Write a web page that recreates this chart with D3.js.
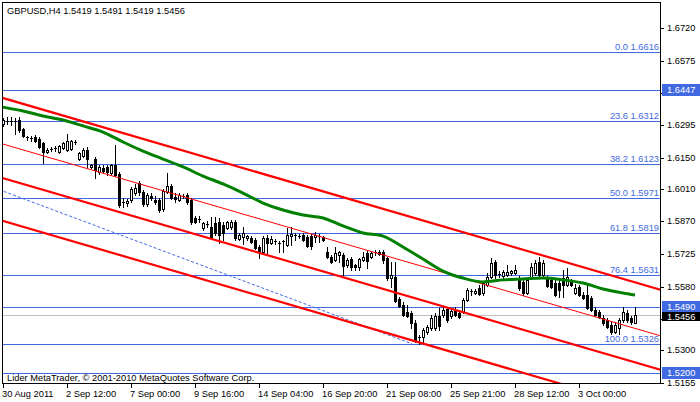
<!DOCTYPE html>
<html><head><meta charset="utf-8">
<script src="https://cdn.jsdelivr.net/npm/d3@7"></script>
<style>
html,body{margin:0;padding:0;background:#fff;}
svg{display:block;font-family:"Liberation Sans",Arial,sans-serif;}
</style></head><body>
<svg id="c" width="700" height="402"></svg>
<script>
const title = "GBPUSD,H4  1.5419 1.5491 1.5419 1.5456";
const copyright = "Lider MetaTrader, \u00a9 2001-2010 MetaQuotes Software Corp.";
const timeLabels = ["30 Aug 2011","2 Sep 12:00","7 Sep 00:00","9 Sep 16:00","14 Sep 04:00","16 Sep 20:00","21 Sep 08:00","25 Sep 21:00","28 Sep 12:00","3 Oct 00:00"];
const timeLabelBars = [0,16,32,48,64,80,96,112,128,144];
const priceTicks = [1.6720,1.6575,1.6435,1.6295,1.6150,1.6010,1.5870,1.5725,1.5580,1.5440,1.5300,1.5155];
const hiddenTicks = [1.6435,1.5440];

const open = [1.6298,1.6312,1.6307,1.6312,1.6316,1.6276,1.6241,1.6237,1.6241,1.6232,
1.6215,1.6175,1.6184,1.6188,1.6175,1.6193,1.6184,1.6188,1.6219,1.6144,
1.6157,1.6184,1.6109,1.6144,1.6087,1.6104,1.6109,1.6082,1.6118,1.6078,
1.5950,1.5950,1.5963,1.5994,1.6038,1.5999,1.5946,1.5981,1.5963,1.5963,
1.5924,1.5999,1.6025,1.5977,1.5963,1.5981,1.5985,1.5963,1.5884,1.5875,
1.5840,1.5853,1.5844,1.5862,1.5866,1.5853,1.5840,1.5844,1.5866,1.5791,
1.5800,1.5796,1.5796,1.5787,1.5756,1.5734,1.5796,1.5774,1.5782,1.5774,
1.5778,1.5765,1.5804,1.5809,1.5804,1.5809,1.5800,1.5804,1.5800,1.5804,
1.5800,1.5734,1.5712,1.5699,1.5721,1.5721,1.5677,1.5703,1.5677,1.5668,
1.5699,1.5730,1.5712,1.5730,1.5734,1.5734,1.5707,1.5619,1.5624,1.5527,
1.5500,1.5469,1.5465,1.5421,1.5355,1.5359,1.5381,1.5399,1.5399,1.5452,
1.5456,1.5483,1.5452,1.5474,1.5465,1.5469,1.5522,1.5558,1.5553,1.5575,
1.5553,1.5589,1.5624,1.5690,1.5637,1.5628,1.5633,1.5641,1.5641,1.5611,
1.5602,1.5553,1.5624,1.5641,1.5690,1.5633,1.5619,1.5611,1.5597,1.5597,
1.5619,1.5589,1.5602,1.5553,1.5580,1.5544,1.5544,1.5531,1.5478,1.5469,
1.5443,1.5434,1.5412,1.5381,1.5399,1.5434,1.5465,1.5443,1.5419];
const high = [1.6325,1.6329,1.6329,1.6325,1.6329,1.6281,1.6245,1.6245,1.6250,1.6241,
1.6219,1.6193,1.6197,1.6201,1.6206,1.6219,1.6254,1.6228,1.6228,1.6175,
1.6193,1.6197,1.6122,1.6153,1.6118,1.6118,1.6118,1.6122,1.6206,1.6087,
1.5972,1.5968,1.6021,1.6034,1.6047,1.6007,1.5994,1.5994,1.5981,1.5972,
1.6012,1.6082,1.6034,1.5994,1.5994,1.5990,1.5994,1.5972,1.5893,1.5893,
1.5866,1.5871,1.5888,1.5888,1.5884,1.5866,1.5871,1.5875,1.5875,1.5818,
1.5844,1.5809,1.5804,1.5796,1.5765,1.5804,1.5809,1.5804,1.5791,1.5782,
1.5787,1.5840,1.5844,1.5818,1.5813,1.5818,1.5809,1.5813,1.5822,1.5813,
1.5804,1.5756,1.5721,1.5756,1.5738,1.5730,1.5707,1.5712,1.5681,1.5707,
1.5734,1.5738,1.5738,1.5743,1.5743,1.5743,1.5712,1.5690,1.5690,1.5536,
1.5514,1.5500,1.5474,1.5434,1.5368,1.5399,1.5412,1.5456,1.5465,1.5487,
1.5491,1.5491,1.5483,1.5491,1.5474,1.5531,1.5575,1.5571,1.5571,1.5589,
1.5606,1.5641,1.5707,1.5699,1.5650,1.5655,1.5677,1.5655,1.5677,1.5628,
1.5611,1.5619,1.5685,1.5699,1.5712,1.5699,1.5628,1.5624,1.5611,1.5611,
1.5655,1.5663,1.5615,1.5593,1.5589,1.5558,1.5597,1.5540,1.5491,1.5478,
1.5456,1.5443,1.5425,1.5425,1.5443,1.5491,1.5478,1.5452,1.5491];
const low = [1.6290,1.6298,1.6294,1.6254,1.6263,1.6241,1.6228,1.6224,1.6219,1.6193,
1.6126,1.6171,1.6179,1.6179,1.6171,1.6188,1.6179,1.6184,1.6210,1.6140,
1.6153,1.6109,1.6104,1.6060,1.6078,1.6082,1.6074,1.6074,1.6069,1.5932,
1.5932,1.5937,1.5955,1.5985,1.5985,1.5937,1.5937,1.5963,1.5946,1.5910,
1.5915,1.5994,1.5968,1.5955,1.5959,1.5972,1.5946,1.5857,1.5862,1.5866,
1.5831,1.5844,1.5796,1.5809,1.5774,1.5787,1.5835,1.5835,1.5787,1.5787,
1.5769,1.5787,1.5774,1.5747,1.5707,1.5725,1.5730,1.5769,1.5769,1.5734,
1.5734,1.5760,1.5765,1.5787,1.5796,1.5782,1.5756,1.5747,1.5778,1.5778,
1.5782,1.5707,1.5685,1.5694,1.5690,1.5633,1.5668,1.5655,1.5655,1.5655,
1.5694,1.5663,1.5707,1.5721,1.5721,1.5685,1.5611,1.5580,1.5514,1.5491,
1.5452,1.5447,1.5399,1.5337,1.5326,1.5333,1.5373,1.5390,1.5390,1.5390,
1.5447,1.5425,1.5443,1.5452,1.5443,1.5465,1.5518,1.5544,1.5549,1.5544,
1.5544,1.5584,1.5619,1.5619,1.5624,1.5615,1.5628,1.5633,1.5637,1.5566,
1.5544,1.5549,1.5619,1.5633,1.5619,1.5628,1.5580,1.5575,1.5540,1.5536,
1.5536,1.5584,1.5584,1.5549,1.5540,1.5527,1.5483,1.5474,1.5452,1.5443,
1.5412,1.5399,1.5373,1.5377,1.5373,1.5425,1.5425,1.5417,1.5419];
const close = [1.6316,1.6307,1.6312,1.6307,1.6272,1.6245,1.6237,1.6236,1.6224,1.6197,
1.6175,1.6184,1.6188,1.6193,1.6201,1.6215,1.6224,1.6224,1.6221,1.6171,
1.6184,1.6144,1.6118,1.6096,1.6109,1.6091,1.6087,1.6118,1.6074,1.5941,
1.5955,1.5959,1.6012,1.6016,1.5999,1.5946,1.5985,1.5972,1.5955,1.5919,
1.6003,1.6025,1.5972,1.5968,1.5985,1.5977,1.5955,1.5866,1.5866,1.5879,
1.5862,1.5857,1.5800,1.5818,1.5809,1.5818,1.5866,1.5866,1.5796,1.5809,
1.5818,1.5804,1.5778,1.5752,1.5738,1.5796,1.5774,1.5791,1.5778,1.5769,
1.5782,1.5809,1.5813,1.5804,1.5800,1.5787,1.5760,1.5760,1.5809,1.5800,
1.5787,1.5712,1.5690,1.5730,1.5734,1.5672,1.5699,1.5668,1.5668,1.5703,
1.5712,1.5694,1.5730,1.5734,1.5725,1.5699,1.5619,1.5633,1.5518,1.5496,
1.5456,1.5452,1.5421,1.5346,1.5359,1.5390,1.5403,1.5443,1.5452,1.5408,
1.5478,1.5434,1.5474,1.5456,1.5447,1.5522,1.5566,1.5562,1.5562,1.5549,
1.5597,1.5624,1.5685,1.5633,1.5633,1.5646,1.5646,1.5650,1.5655,1.5575,
1.5553,1.5611,1.5668,1.5685,1.5633,1.5685,1.5584,1.5580,1.5544,1.5566,
1.5589,1.5624,1.5589,1.5575,1.5544,1.5531,1.5487,1.5478,1.5456,1.5447,
1.5421,1.5403,1.5381,1.5412,1.5434,1.5469,1.5434,1.5425,1.5456];

const maBars = [0,5,10,15,20,25,30,35,40,45,50,55,60,65,70,75,80,85,90,95,100,105,110,115,120,125,130,135,140,145,150,155,158];
const maValues = [1.6373,1.6356,1.6334,1.6316,1.6290,1.6263,1.6219,1.6179,1.6144,1.6109,1.6069,1.6034,1.5994,1.5950,1.5919,1.5897,1.5884,1.5849,1.5818,1.5804,1.5756,1.5703,1.5650,1.5619,1.5602,1.5611,1.5615,1.5619,1.5611,1.5597,1.5571,1.5553,1.5544];

const fibLevels = ["0.0","23.6","38.2","50.0","61.8","76.4","100.0"];
const fibPrices = [1.6616,1.6312,1.6123,1.5971,1.5819,1.5631,1.5326];
const hLinePrices = [1.6447,1.5490,1.5200];
const bidPrice = 1.5456;

const channelBars = [0,158];
const channelTop = [1.6413,1.5600];
const channelMid = [1.6210,1.5397];
const channelLow = [1.6060,1.5247];
const channelBottom = [1.5871,1.5057];
const fibTrendBars = [-1,102.25];
const fibTrendPrices = [1.6009,1.5329];

// ---------- drawing ----------
const svg = d3.select("#c");
const L = 2, R = 660, T = 2, B = 383;
const x = d3.scaleLinear().domain([0,158]).range([3,635]);
const y = d3.scaleLinear().domain([1.51562,1.68365]).range([B,T]);
const FS = "9.3px";
const BLUE = "#4169E1";

svg.append("rect").attr("width",700).attr("height",402).attr("fill","#fff");
svg.append("defs").append("clipPath").attr("id","plot")
  .append("rect").attr("x",L).attr("y",T).attr("width",R-L).attr("height",B-T);
const plot = svg.append("g").attr("clip-path","url(#plot)");

const hl = (p,col)=>plot.append("line").attr("x1",L).attr("x2",R)
  .attr("y1",Math.round(y(p))+0.5).attr("y2",Math.round(y(p))+0.5)
  .attr("stroke",col).attr("stroke-width",1);
fibPrices.forEach(p=>hl(p,BLUE));
hLinePrices.forEach(p=>hl(p,BLUE));
hl(bidPrice,"#C0C0C0");

fibPrices.forEach((p,i)=>{
  plot.append("text").attr("x",659).attr("y",Math.round(y(p))-2)
    .attr("text-anchor","end").attr("fill",BLUE).style("font-size",FS)
    .text(fibLevels[i]+" "+p.toFixed(4));
});

plot.append("line")
  .attr("x1",x(fibTrendBars[0])).attr("y1",y(fibTrendPrices[0]))
  .attr("x2",x(fibTrendBars[1])).attr("y2",y(fibTrendPrices[1]))
  .attr("stroke",BLUE).attr("stroke-width",1).attr("stroke-dasharray","3,2");

const data = open.map((o,i)=>({i,o,h:high[i],l:low[i],c:close[i]}));
const cg = plot.append("g");
data.forEach(d=>{
  const cx = Math.round(x(d.i));
  cg.append("line").attr("x1",cx+0.5).attr("x2",cx+0.5)
    .attr("y1",Math.round(y(d.h))).attr("y2",Math.round(y(d.l))+1)
    .attr("stroke","#000").attr("stroke-width",1);
  const yt = Math.round(y(Math.max(d.o,d.c))), yb = Math.round(y(Math.min(d.o,d.c)));
  const hgt = Math.max(1,yb-yt);
  if (d.c > d.o && hgt>=2) {
    cg.append("rect").attr("x",cx-0.5).attr("y",yt+0.5).attr("width",2).attr("height",hgt)
      .attr("fill","#fff").attr("stroke","#000").attr("stroke-width",1);
  } else {
    cg.append("rect").attr("x",cx-1).attr("y",yt).attr("width",3).attr("height",hgt+(hgt>1?1:0))
      .attr("fill","#000");
  }
});

const chan = (vals,w)=>plot.append("line")
  .attr("x1",x(-2)).attr("y1",y(vals[0]+(vals[0]-vals[1])*2/158))
  .attr("x2",x(170)).attr("y2",y(vals[1]-(vals[0]-vals[1])*12/158))
  .attr("stroke","#FF0000").attr("stroke-width",w);
chan(channelTop,2.2); chan(channelMid,1); chan(channelLow,2.2); chan(channelBottom,2.2);

plot.append("path").datum(maBars.map((b,i)=>[b,maValues[i]]))
  .attr("d",d3.line().x(d=>x(d[0])).y(d=>y(d[1])).curve(d3.curveMonotoneX))
  .attr("fill","none").attr("stroke","#008000").attr("stroke-width",3);

svg.append("text").attr("x",7).attr("y",14).style("font-size",FS).attr("fill","#000").text(title);
svg.append("text").attr("x",7).attr("y",381).style("font-size",FS).attr("fill","#000").text(copyright);

svg.append("rect").attr("x",L+0.5).attr("y",T+0.5).attr("width",R-L).attr("height",B-T)
  .attr("fill","none").attr("stroke","#000").attr("stroke-width",1);

timeLabelBars.forEach((b,i)=>{
  const tx = Math.round(x(b));
  svg.append("line").attr("x1",tx+0.5).attr("x2",tx+0.5).attr("y1",B).attr("y2",B+5).attr("stroke","#000");
  svg.append("text").attr("x",tx-1).attr("y",397).style("font-size",FS).attr("fill","#000").text(timeLabels[i]);
});

priceTicks.forEach(p=>{
  const ty = Math.round(y(p));
  svg.append("line").attr("x1",R).attr("x2",R+4).attr("y1",ty+0.5).attr("y2",ty+0.5).attr("stroke","#000");
  if (!hiddenTicks.includes(p))
    svg.append("text").attr("x",667).attr("y",ty).attr("dy","0.35em").style("font-size",FS).attr("fill","#000").text(p.toFixed(4));
});
const box = (p,col,ty,h)=>{
  svg.append("rect").attr("x",662).attr("y",ty-h/2).attr("width",38).attr("height",h).attr("fill",col);
  svg.append("text").attr("x",667).attr("y",ty).attr("dy","0.35em").style("font-size",FS).attr("fill","#fff").text(p.toFixed(4));
};
box(bidPrice,"#000",Math.round(y(bidPrice))+1.5,9);
box(hLinePrices[0],BLUE,Math.round(y(hLinePrices[0])),12);
box(hLinePrices[1],BLUE,Math.round(y(hLinePrices[1]))-0.5,11);
box(hLinePrices[2],BLUE,Math.round(y(hLinePrices[2])),12);
</script>
</body></html>
